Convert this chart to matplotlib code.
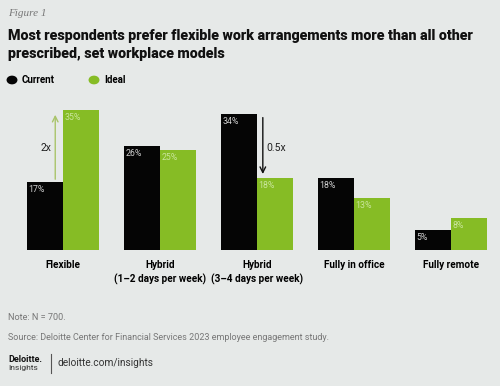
import matplotlib.pyplot as plt
import numpy as np

# data
categories = ['Flexible', 'Hybrid\n(1–2 days per week)', 'Hybrid\n(3–4 days per week)',
              'Fully in office', 'Fully remote']
current = [17, 26, 34, 18, 5]
ideal = [35, 25, 18, 13, 8]

BG = '#e6e9e8'
GREEN = '#86bc25'
BLACK = '#050505'
FONT = ['Roboto', 'DejaVu Sans']

fig = plt.figure(figsize=(5, 3.86), dpi=100, facecolor=BG)

# plot area: baseline at y=250px, 4px per percent
ax = fig.add_axes([14.5 / 500, 1 - 250 / 386, 485 / 500, 144 / 386])
ax.set_facecolor(BG)

x = np.arange(len(categories))
w = 0.37
ax.bar(x - w / 2, current, w, color=BLACK)
ax.bar(x + w / 2, ideal, w, color=GREEN)

# value labels inside the top left corner of each bar
for i in range(len(categories)):
    ax.text(x[i] - w + 0.015, current[i] - 0.7, f'{current[i]}%', ha='left', va='top',
            fontsize=6.3, color='#cfcfcf', family=FONT)
    ax.text(x[i] + 0.015, ideal[i] - 0.7, f'{ideal[i]}%', ha='left', va='top',
            fontsize=6.3, color='#c9e59c', family=FONT)

# 2x arrow on Flexible
ax.annotate('', xy=(x[0] - 0.08, ideal[0] - 0.5), xytext=(x[0] - 0.08, current[0]),
            arrowprops=dict(arrowstyle='->', color='#a9c46a', lw=1.0))
ax.text(x[0] - 0.12, 25.5, '2x', ha='right', va='center', fontsize=7.5,
        color='#222222', family=FONT)

# 0.5x arrow on Hybrid 3-4
ax.annotate('', xy=(x[2] + 0.06, ideal[2] + 0.3), xytext=(x[2] + 0.06, current[2] - 0.2),
            arrowprops=dict(arrowstyle='->', color='#111111', lw=1.0))
ax.text(x[2] + 0.1, 25.5, '0.5x', ha='left', va='center', fontsize=7.5,
        color='#222222', family=FONT)

ax.set_xlim(-0.5, 4.5)
ax.set_ylim(0, 36)
ax.set_xticks(x)
ax.set_xticklabels(categories, fontsize=7.2, fontweight='bold', family=FONT,
                   linespacing=1.4)
ax.tick_params(axis='x', length=0, pad=7)
ax.set_yticks([])
for s in ax.spines.values():
    s.set_visible(False)

# header
fig.text(8 / 500, 1 - 13 / 386, 'Figure 1', fontsize=8, style='italic',
         family=['Liberation Serif', 'DejaVu Serif'], color='#777777', va='center')
fig.text(8 / 500, 1 - 45 / 386,
         'Most respondents prefer flexible work arrangements more than all other\n'
         'prescribed, set workplace models',
         fontsize=10.3, fontweight='black', family=FONT, color='#111111',
         va='center', linespacing=1.3)

# legend
fig.patches.append(plt.Circle((12 / 500, 1 - 80 / 386), 0.0095, color=BLACK,
                              transform=fig.transFigure, figure=fig))
fig.text(22 / 500, 1 - 80 / 386, 'Current', fontsize=7, fontweight='bold',
         family=FONT, va='center')
fig.patches.append(plt.Circle((94 / 500, 1 - 80 / 386), 0.0095, color=GREEN,
                              transform=fig.transFigure, figure=fig))
fig.text(104 / 500, 1 - 80 / 386, 'Ideal', fontsize=7, fontweight='bold',
         family=FONT, va='center')

# footer
fig.text(8 / 500, 1 - 317 / 386, 'Note: N = 700.', fontsize=6.6, color='#777777',
         family=FONT, va='center')
fig.text(8 / 500, 1 - 337 / 386,
         'Source: Deloitte Center for Financial Services 2023 employee engagement study.',
         fontsize=6.5, color='#777777', family=FONT, va='center')
fig.text(8 / 500, 1 - 359 / 386, 'Deloitte.', fontsize=6.5, fontweight='bold',
         family=FONT, va='center', color='#111111')
fig.text(8 / 500, 1 - 368 / 386, 'Insights', fontsize=6, family=FONT,
         va='center', color='#333333')
fig.add_artist(plt.Line2D([51 / 500, 51 / 500], [1 - 373 / 386, 1 - 354 / 386],
                          color='#555555', lw=0.8, transform=fig.transFigure))
fig.text(57 / 500, 1 - 363 / 386, 'deloitte.com/insights', fontsize=7.3,
         family=FONT, va='center', color='#333333')

fig.savefig('out.png', dpi=100, facecolor=BG)
